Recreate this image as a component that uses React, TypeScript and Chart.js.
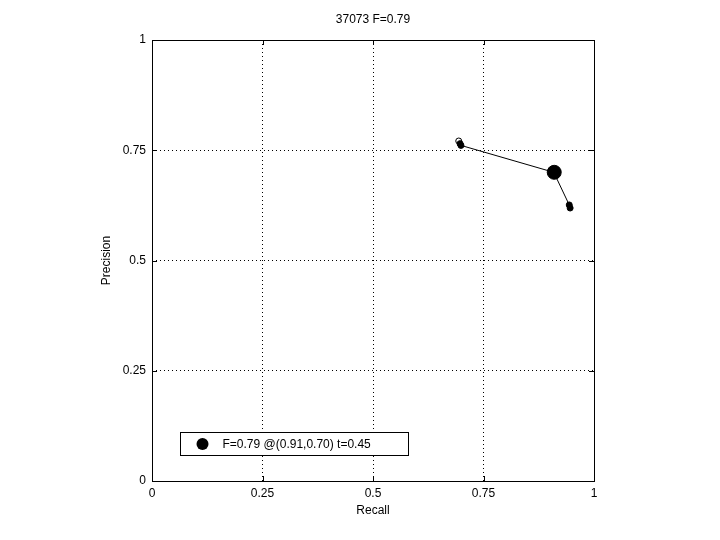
import React, { useEffect, useRef } from "react";
import { Chart, registerables } from "chart.js";

Chart.register(...registerables);

const chartTitle = "37073 F=0.79";
const xLabel = "Recall";
const yLabel = "Precision";
const tickValues = [0, 0.25, 0.5, 0.75, 1];
const tickLabels = ["0", "0.25", "0.5", "0.75", "1"];

const curveRecall = [0.694, 0.697, 0.699, 0.909, 0.944, 0.946];
const curvePrecision = [0.771, 0.765, 0.761, 0.7, 0.626, 0.619];
const curveFill = ["#ffffff", "#000000", "#000000", "#000000", "#000000", "#000000"];

const bestRecall = [0.91];
const bestPrecision = [0.7];
const legendText = "F=0.79 @(0.91,0.70) t=0.45";

const FONT = "'Liberation Sans', Arial, Helvetica, sans-serif";

const labelFor = (v: number) => {
  const i = tickValues.findIndex((t) => Math.abs(t - v) < 1e-9);
  return i >= 0 ? tickLabels[i] : "";
};

const decorPlugin = {
  id: "decor",
  afterDraw(chart: any) {
    const { ctx, chartArea: ca, scales } = chart;
    ctx.save();
    ctx.strokeStyle = "#000";
    ctx.lineWidth = 1;
    ctx.setLineDash([]);
    ctx.strokeRect(Math.round(ca.left) + 0.5, Math.round(ca.top) + 0.5, Math.round(ca.right - ca.left), Math.round(ca.bottom - ca.top));
    const tl = 5;
    ctx.beginPath();
    for (const v of tickValues) {
      const x = Math.round(scales.x.getPixelForValue(v)) + 0.5;
      ctx.moveTo(x, ca.bottom);
      ctx.lineTo(x, ca.bottom - tl);
      ctx.moveTo(x, ca.top);
      ctx.lineTo(x, ca.top + tl);
      const y = Math.round(scales.y.getPixelForValue(v)) + 0.5;
      ctx.moveTo(ca.left, y);
      ctx.lineTo(ca.left + tl, y);
      ctx.moveTo(ca.right, y);
      ctx.lineTo(ca.right - tl, y);
    }
    ctx.stroke();
    ctx.fillStyle = "#000";
    ctx.font = "12px " + FONT;
    ctx.textAlign = "center";
    ctx.textBaseline = "middle";
    const cx = (ca.left + ca.right) / 2;
    const cy = (ca.top + ca.bottom) / 2;
    ctx.fillText(chartTitle, cx, ca.top - 20);
    ctx.fillText(xLabel, cx, ca.bottom + 30);
    ctx.save();
    ctx.translate(ca.left - 45, cy);
    ctx.rotate(-Math.PI / 2);
    ctx.fillText(yLabel, 0, 0);
    ctx.restore();
    const lx = Math.round(ca.left + 28) + 0.5;
    const ly = Math.round(ca.bottom - 49) + 0.5;
    const lw = 228;
    const lh = 23;
    ctx.fillStyle = "#fff";
    ctx.fillRect(lx, ly, lw, lh);
    ctx.strokeStyle = "#000";
    ctx.strokeRect(lx, ly, lw, lh);
    ctx.fillStyle = "#000";
    ctx.beginPath();
    ctx.arc(lx + 22, ly + lh / 2, 6, 0, Math.PI * 2);
    ctx.fill();
    ctx.textAlign = "left";
    ctx.fillText(legendText, lx + 42, ly + lh / 2 + 0.5);
    ctx.restore();
  },
};

export default function App() {
  const ref = useRef<HTMLCanvasElement>(null);
  useEffect(() => {
    const canvas = ref.current!;
    const gridColor = (c: any) =>
      c.tick && (c.tick.value === 0 || c.tick.value === 1) ? "rgba(0,0,0,0)" : "#000";
    const chart = new Chart(canvas, {
      type: "scatter",
      data: {
        datasets: [
          {
            data: bestRecall.map((r, i) => ({ x: r, y: bestPrecision[i] })),
            pointRadius: 7,
            pointBackgroundColor: "#000",
            pointBorderColor: "#000",
            showLine: false,
          },
          {
            data: curveRecall.map((r, i) => ({ x: r, y: curvePrecision[i] })),
            showLine: true,
            borderColor: "#000",
            borderWidth: 1,
            pointRadius: 3,
            pointBorderWidth: 1,
            pointBorderColor: "#000",
            pointBackgroundColor: curveFill,
          },
        ],
      },
      options: {
        responsive: false,
        animation: false,
        events: [],
        layout: { padding: { left: 0, top: 40, right: 126, bottom: 0 } },
        plugins: { legend: { display: false }, tooltip: { enabled: false }, title: { display: false } },
        scales: {
          x: {
            type: "linear",
            min: 0,
            max: 1,
            afterFit: (s: any) => { s.height = 59; },
            afterBuildTicks: (s: any) => { s.ticks = tickValues.map((v) => ({ value: v })); },
            ticks: { color: "#000", padding: 5, font: { size: 12, family: FONT }, maxRotation: 0, callback: (v: any) => labelFor(Number(v)) },
            grid: { color: gridColor, drawTicks: false, lineWidth: 1 },
            border: { display: false, dash: [1, 3] },
          },
          y: {
            type: "linear",
            min: 0,
            max: 1,
            afterFit: (s: any) => { s.width = 152; },
            afterBuildTicks: (s: any) => { s.ticks = tickValues.map((v) => ({ value: v })); },
            ticks: { color: "#000", padding: 6, font: { size: 12, family: FONT }, callback: (v: any) => labelFor(Number(v)) },
            grid: { color: gridColor, drawTicks: false, lineWidth: 1 },
            border: { display: false, dash: [1, 3] },
          },
        },
      },
      plugins: [decorPlugin],
    } as any);
    return () => chart.destroy();
  }, []);
  return (
    <div style={{ position: "fixed", left: 0, top: 0, width: 720, height: 540, background: "#fff" }}>
      <canvas ref={ref} width={720} height={540} style={{ width: 720, height: 540, display: "block" }} />
    </div>
  );
}
